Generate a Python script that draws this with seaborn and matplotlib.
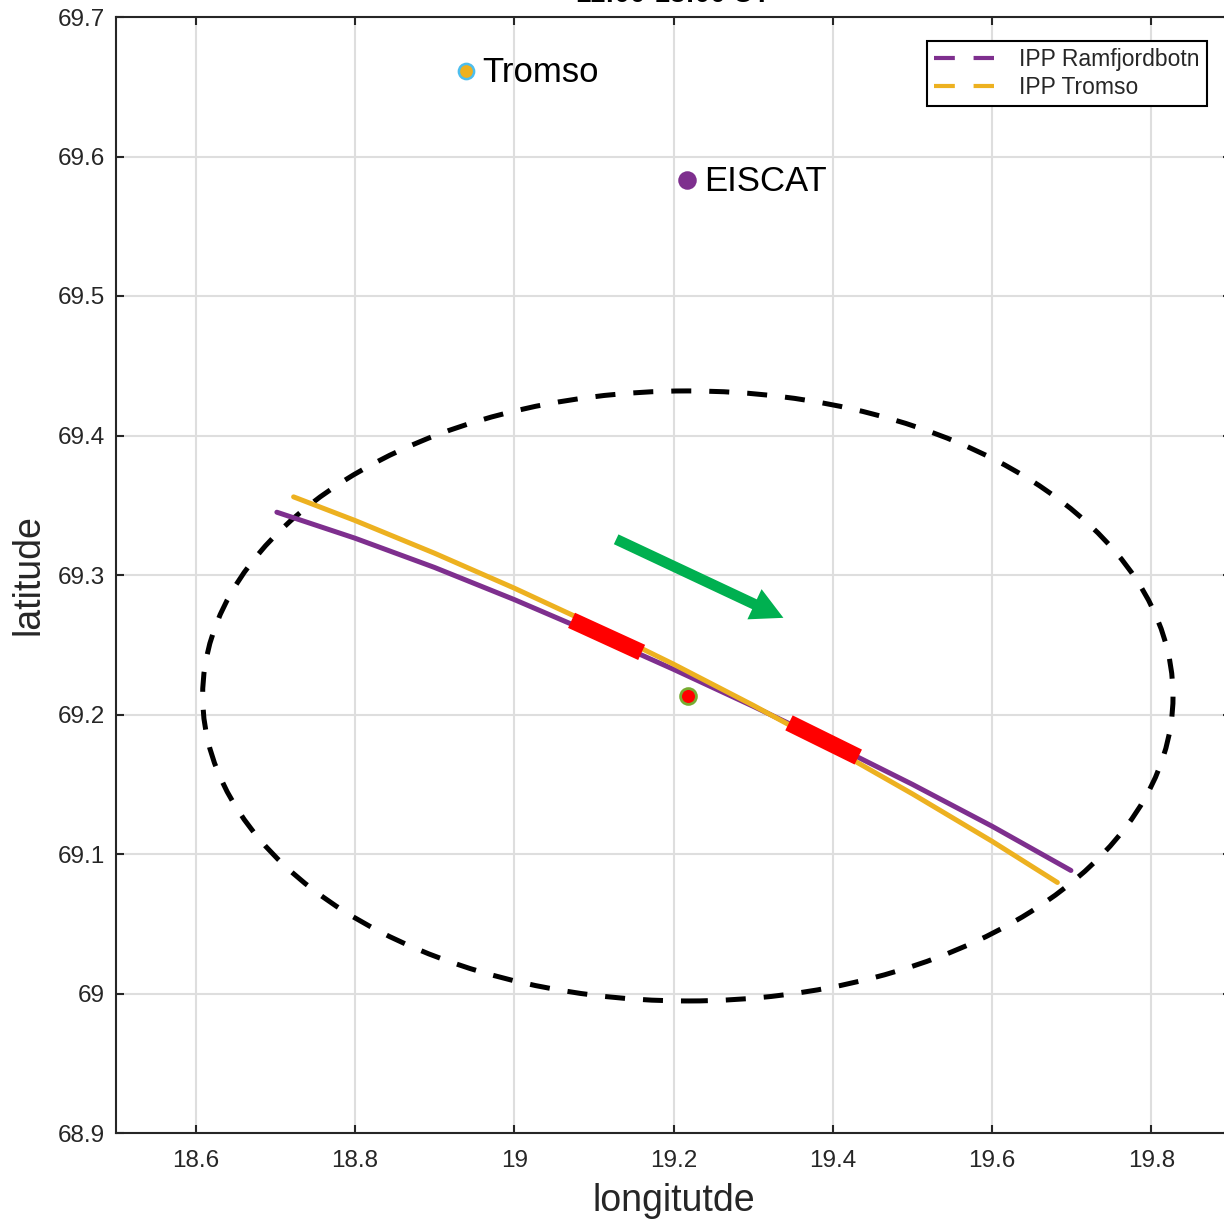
import matplotlib
matplotlib.use("Agg")
import matplotlib.pyplot as plt
from matplotlib.lines import Line2D
from matplotlib.patches import Ellipse
import seaborn as sns
import pandas as pd

# ---- data -------------------------------------------------------------
# ionospheric pierce point tracks (lon, lat)
ramf_lon = [18.702, 18.80, 18.90, 19.00, 19.10, 19.20, 19.30, 19.40, 19.50, 19.60, 19.699]
ramf_lat = [69.345, 69.3264, 69.3054, 69.2824, 69.2579, 69.2324, 69.2059, 69.1784, 69.1499, 69.1199, 69.0882]

troms_lon = [18.723, 18.80, 18.90, 19.00, 19.10, 19.20, 19.30, 19.40, 19.50, 19.60, 19.682]
troms_lat = [69.356, 69.3391, 69.3156, 69.2906, 69.2641, 69.2361, 69.2066, 69.1756, 69.1431, 69.1091, 69.0796]

# highlighted track sections
seg1_lon = [19.072, 19.160]
seg1_lat = [69.2675, 69.2445]
seg2_lon = [19.345, 19.432]
seg2_lat = [69.194, 69.1695]

# sites
site_names = ["Tromso", "EISCAT"]
site_lon = [18.939, 19.217]
site_lat = [69.661, 69.583]

# radar beam centre and coverage ellipse
centre_lon = 19.218
centre_lat = 69.2133
ring_width = 1.2184   # degrees longitude
ring_height = 0.4373  # degrees latitude

# drift direction arrow
arrow_tail = (19.128, 69.3256)
arrow_tip = (19.338, 69.2693)

xticks = [18.6, 18.8, 19.0, 19.2, 19.4, 19.6, 19.8]
xticklabels = ["18.6", "18.8", "19", "19.2", "19.4", "19.6", "19.8"]
yticks = [68.9, 69.0, 69.1, 69.2, 69.3, 69.4, 69.5, 69.6, 69.7]
yticklabels = ["68.9", "69", "69.1", "69.2", "69.3", "69.4", "69.5", "69.6", "69.7"]

title = "11:00-13:00 UT"

# ---- colours ----------------------------------------------------------
PURPLE = "#7E2F8E"
YELLOW = "#EDB120"
LIGHTBLUE = "#4DBEEE"
OLIVE = "#77AC30"
RED = "#FF0000"
GREEN = "#00B050"
DARK = "#262626"

# ---- style ------------------------------------------------------------
sns.set_theme(style="white")
plt.rcParams["font.family"] = ["Liberation Sans", "DejaVu Sans"]
plt.rcParams["axes.edgecolor"] = DARK
plt.rcParams["xtick.color"] = DARK
plt.rcParams["ytick.color"] = DARK

fig = plt.figure(figsize=(12.24, 12.24), dpi=100)
ax = fig.add_axes([116 / 1224, 91 / 1224, 1115 / 1224, 1116 / 1224])

ax.set_xlim(18.5, 19.9)
ax.set_ylim(68.9, 69.7)

ax.grid(True, color="#dedede", linewidth=1.5)
ax.set_axisbelow(True)

# coverage ring
ax.add_patch(Ellipse((centre_lon, centre_lat), ring_width, ring_height,
                     fill=False, edgecolor="black", linewidth=3.6,
                     linestyle=(0, (4.0, 3.6)), zorder=3))

# IPP tracks
df_r = pd.DataFrame({"lon": ramf_lon, "lat": ramf_lat})
df_t = pd.DataFrame({"lon": troms_lon, "lat": troms_lat})
sns.lineplot(data=df_r, x="lon", y="lat", sort=False, estimator=None,
             color=PURPLE, linewidth=3.6, ax=ax, zorder=4)
sns.lineplot(data=df_t, x="lon", y="lat", sort=False, estimator=None,
             color=YELLOW, linewidth=3.6, ax=ax, zorder=5)

# highlighted sections
for lon, lat in [(seg1_lon, seg1_lat), (seg2_lon, seg2_lat)]:
    sns.lineplot(x=lon, y=lat, sort=False, estimator=None, color=RED,
                 linewidth=12, ax=ax, zorder=6, solid_capstyle="butt")

# sites
ax.scatter([site_lon[0]], [site_lat[0]], s=120, color=YELLOW,
           edgecolors=LIGHTBLUE, linewidths=1.8, zorder=7)
ax.scatter([site_lon[1]], [site_lat[1]], s=140, color=PURPLE,
           edgecolors=PURPLE, linewidths=1.5, zorder=7)
for name, lon, lat in zip(site_names, site_lon, site_lat):
    ax.text(lon + 0.021, lat - 0.001, name, fontsize=25, color="black",
            va="center", ha="left", zorder=8)

# beam centre
ax.scatter([centre_lon], [centre_lat], s=130, color=RED,
           edgecolors=OLIVE, linewidths=2.0, zorder=8)

# drift arrow
ax.annotate("", xy=arrow_tip, xytext=arrow_tail,
            arrowprops=dict(arrowstyle="simple,head_length=2.3,head_width=2.4,tail_width=0.78",
                            color=GREEN, lw=0, shrinkA=0, shrinkB=0,
                            mutation_scale=10),
            zorder=9)

# axes decoration
ax.set_xticks(xticks)
ax.set_xticklabels(xticklabels)
ax.set_yticks(yticks)
ax.set_yticklabels(yticklabels)
ax.tick_params(axis="both", which="major", direction="in", length=6, width=1.5,
               labelsize=17.5, top=True, right=True, bottom=True, left=True)
ax.tick_params(axis="x", pad=12)
ax.tick_params(axis="y", pad=8)
for sp in ax.spines.values():
    sp.set_linewidth(1.5)
    sp.set_color(DARK)

ax.set_xlabel("longitutde", fontsize=27, color=DARK, labelpad=8)
ax.set_ylabel("latitude", fontsize=27, color=DARK, labelpad=8)
ax.set_title(title, fontsize=20, fontweight="bold", pad=11, color="black")

handles = [
    Line2D([], [], color=PURPLE, linewidth=3, linestyle=(0, (5, 4.5))),
    Line2D([], [], color=YELLOW, linewidth=3, linestyle=(0, (5, 4.5))),
]
leg = ax.legend(handles, ["IPP Ramfjordbotn", "IPP Tromso"], loc="upper right",
                bbox_to_anchor=(0.9785, 0.9785), borderaxespad=0, fontsize=16.5,
                handlelength=2.6, handletextpad=1.1, labelspacing=0.2,
                borderpad=0.32, fancybox=False, framealpha=1, edgecolor="black")
leg.get_frame().set_linewidth(1.5)
for t in leg.get_texts():
    t.set_color(DARK)

fig.savefig("out.png", dpi=100)
